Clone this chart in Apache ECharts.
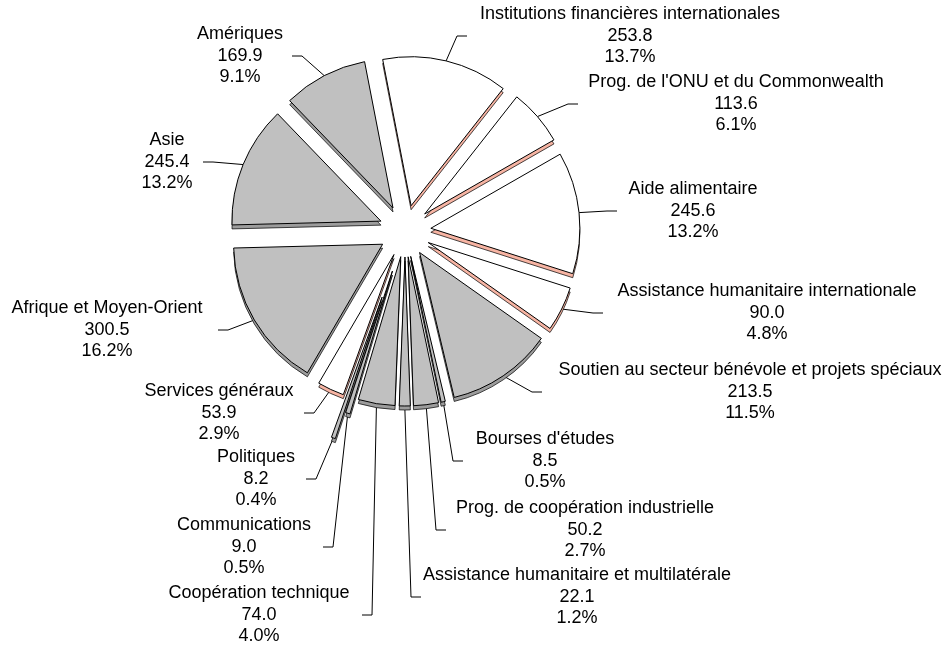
<!DOCTYPE html>
<html>
<head>
<meta charset="utf-8">
<script src="https://cdn.jsdelivr.net/npm/echarts@6/dist/echarts.min.js"></script>
<style>
  html, body { margin: 0; padding: 0; background: #fff; }
  #chart { width: 946px; height: 645px; }
</style>
</head>
<body>
<div id="chart"></div>
<script>
// postes, dans le sens horaire depuis le haut
const categories = [
  'Institutions financières internationales',
  "Prog. de l'ONU et du Commonwealth",
  'Aide alimentaire',
  'Assistance humanitaire internationale',
  'Soutien au secteur bénévole et projets spéciaux',
  "Bourses d'études",
  'Prog. de coopération industrielle',
  'Assistance humanitaire et multilatérale',
  'Coopération technique',
  'Communications',
  'Politiques',
  'Services généraux',
  'Afrique et Moyen-Orient',
  'Asie',
  'Amériques'
];
const values = [253.8, 113.6, 245.6, 90.0, 213.5, 8.5, 50.2, 22.1, 74.0, 9.0, 8.2, 53.9, 300.5, 245.4, 169.9];

// style / mise en page
const CX = 405, CY = 231, R = 149, DEPTH = 4, START = 101;
const explode = [26, 26, 26, 26, 26, 26, 26, 26, 26, 42, 70, 26, 26, 26, 26];
const white = [true, true, true, true, false, false, false, false, false, false, false, true, false, false, false];
// [coude x, coude y, centre du texte x]
const labelAt = [
  [457, 36, 630], [568, 104, 736], [607, 211, 693], [593, 313, 767],
  [532, 392, 750], [453, 461, 545], [436, 530, 585], [411, 597, 577],
  [372, 615, 259], [333, 547, 244], [316, 479, 256], [314, 413, 219],
  [228, 330, 107], [213, 162, 167], [302, 56, 240]
];

const total = values.reduce((a, b) => a + b, 0);
let acc = 0;
const mids = values.map(v => {
  const m = START - (acc + v / 2) / total * 360;
  acc += v;
  return m;
});

function pieSeries(i, side) {
  const rad = mids[i] * Math.PI / 180;
  const cx = CX + explode[i] * Math.cos(rad);
  const cy = CY - explode[i] * Math.sin(rad) + (side ? DEPTH : 0);
  const fill = white[i] ? (side ? '#f7b4a3' : '#ffffff') : (side ? '#9c9c9c' : '#c0c0c0');
  return {
    type: 'pie',
    silent: true,
    animation: false,
    center: [cx, cy],
    radius: [0, R],
    startAngle: START,
    clockwise: true,
    avoidLabelOverlap: false,
    data: values.map((v, j) => ({
      name: categories[j],
      value: v,
      itemStyle: j === i
        ? { color: fill, borderColor: '#000', borderWidth: side ? 0.7 : 1 }
        : { color: 'rgba(0,0,0,0)', borderWidth: 0 },
      label: { show: !side && j === i },
      labelLine: { show: !side && j === i }
    })),
    label: {
      color: '#000',
      fontSize: 18,
      lineHeight: 21.5,
      fontFamily: 'Liberation Sans, Arial, sans-serif',
      formatter: p => p.name + '\n' + p.value.toFixed(1) + '\n' + (p.value / total * 100).toFixed(1) + '%'
    },
    labelLine: {
      length: 20,
      length2: 10,
      lineStyle: { color: '#000', width: 1 }
    },
    labelLayout: function (params) {
      if (params.dataIndex !== i) return {};
      const a = labelAt[i];
      const dir = a[2] > a[0] ? 1 : -1;
      const p0 = [cx + R * Math.cos(rad), cy - R * Math.sin(rad)];
      return {
        x: a[2],
        y: a[1],
        align: 'center',
        verticalAlign: 'middle',
        labelLinePoints: [p0, [a[0], a[1]], [a[0] + dir * 10, a[1]]]
      };
    }
  };
}

const series = [];
values.forEach((v, i) => series.push(pieSeries(i, true)));
values.forEach((v, i) => series.push(pieSeries(i, false)));

const chart = echarts.init(document.getElementById('chart'));
chart.setOption({
  backgroundColor: '#fff',
  animation: false,
  series: series
});
</script>
</body>
</html>
